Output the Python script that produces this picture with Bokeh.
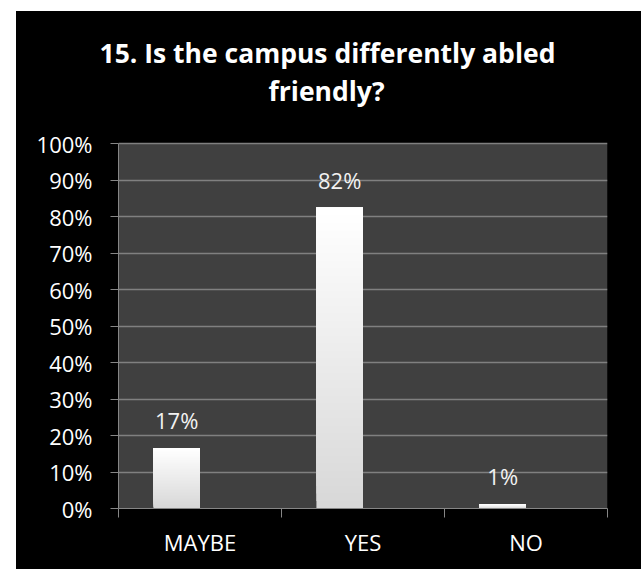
from bokeh.plotting import figure
from bokeh.models import (Range1d, FixedTicker, PrintfTickFormatter, ColumnDataSource, Title)
from bokeh.core.properties import value
from bokeh.embed import file_html
from bokeh.resources import INLINE

# ---- data ----
categories = ["MAYBE", "YES", "NO"]
percent = [16.5, 82.4, 1.1]
percent_labels = ["17%", "82%", "1%"]
y_ticks = [0, 10, 20, 30, 40, 50, 60, 70, 80, 90, 100]
title_lines = ["15. Is the campus differently abled", "friendly?"]
title_left = [-19, 150]        # horizontal offsets of the two title lines (px from plot left)

FONT = "Open Sans"
n_series = 2
gap = 1.5
bar_w = 1.0 / (n_series + gap)
bar_shift = -0.5 * bar_w

W, H = 625, 558
BL, BR, BT, BB = 102, 34, 97, 61
PLOT_TOP = 132                    # canvas y of the 100% line
y_max = 100.0 * (H - BT - BB) / (H - BB - PLOT_TOP)

p = figure(width=W, height=H, output_backend="svg", toolbar_location=None,
           x_range=Range1d(0, len(categories)), y_range=Range1d(0, y_max),
           min_border_left=BL, min_border_right=BR, min_border_top=BT,
           min_border_bottom=BB, margin=(11, 0, 0, 16),
           styles={"background-color": "black"})
p.border_fill_color = "black"
p.background_fill_color = "black"
p.outline_line_color = None

# title lines (nearest line first)
for line, off in reversed(list(zip(title_lines, title_left))):
    p.add_layout(Title(text=line, align="left", offset=off, standoff=0,
                       text_font=FONT, text_font_size="26.5px", text_font_style="bold",
                       text_color="white"), "above")

# plot area background
p.quad(left=[0], right=[len(categories)], bottom=[y_ticks[0]], top=[y_ticks[-1]],
       fill_color="#404040", line_color=None, level="image")

# gradient bars: overlapping slices, each from its own bottom up to the bar top
n_slices = 40
top_rgb = (255, 255, 255)
bot_rgb = (216, 216, 216)
xs, bottoms, tops, colors = [], [], [], []
for i, v in enumerate(percent):
    cx = i + 0.5 + bar_shift
    for k in range(n_slices):
        f = (k + 0.5) / n_slices
        c = tuple(int(round(bot_rgb[j] + (top_rgb[j] - bot_rgb[j]) * f)) for j in range(3))
        xs.append(cx)
        bottoms.append(v * k / n_slices)
        tops.append(v)
        colors.append("#%02x%02x%02x" % c)
p.vbar(x=xs, bottom=bottoms, top=tops, width=bar_w, fill_color=colors, line_color=None)

# data labels
lab_src = ColumnDataSource(dict(x=[i + 0.5 + bar_shift for i in range(len(categories))],
                                y=percent, t=percent_labels))
p.text(x="x", y="y", text="t", source=lab_src, text_align="center", text_baseline="middle",
       y_offset=-28, text_font=value(FONT), text_font_size="22px", text_color="#f2f2f2")

# axes
grey = "#868686"
p.yaxis.ticker = FixedTicker(ticks=y_ticks)
p.yaxis.bounds = (y_ticks[0], y_ticks[-1])
p.yaxis.formatter = PrintfTickFormatter(format="%d%%")
p.yaxis.axis_line_color = grey
p.yaxis.major_tick_line_color = grey
p.yaxis.major_tick_out = 8
p.yaxis.major_tick_in = 0
p.yaxis.minor_tick_line_color = None
p.yaxis.major_label_text_font = FONT
p.yaxis.major_label_text_font_size = "22px"
p.yaxis.major_label_text_color = "white"
p.yaxis.major_label_standoff = 18

p.xaxis.ticker = FixedTicker(ticks=[i + 0.5 for i in range(len(categories))],
                             minor_ticks=list(range(len(categories) + 1)))
p.xaxis.major_label_overrides = {i + 0.5: c for i, c in enumerate(categories)}
p.xaxis.axis_line_color = grey
p.xaxis.major_tick_line_color = None
p.xaxis.major_tick_out = 0
p.xaxis.major_tick_in = 0
p.xaxis.minor_tick_line_color = grey
p.xaxis.minor_tick_out = 9
p.xaxis.minor_tick_in = 0
p.xaxis.major_label_text_font = FONT
p.xaxis.major_label_text_font_size = "22px"
p.xaxis.major_label_text_color = "white"
p.xaxis.major_label_standoff = 9

p.xgrid.grid_line_color = None
p.ygrid.ticker = FixedTicker(ticks=y_ticks)
p.ygrid.grid_line_color = "#808080"
p.ygrid.grid_line_width = 1.5

open("out.html", "w").write(file_html(p, INLINE))
